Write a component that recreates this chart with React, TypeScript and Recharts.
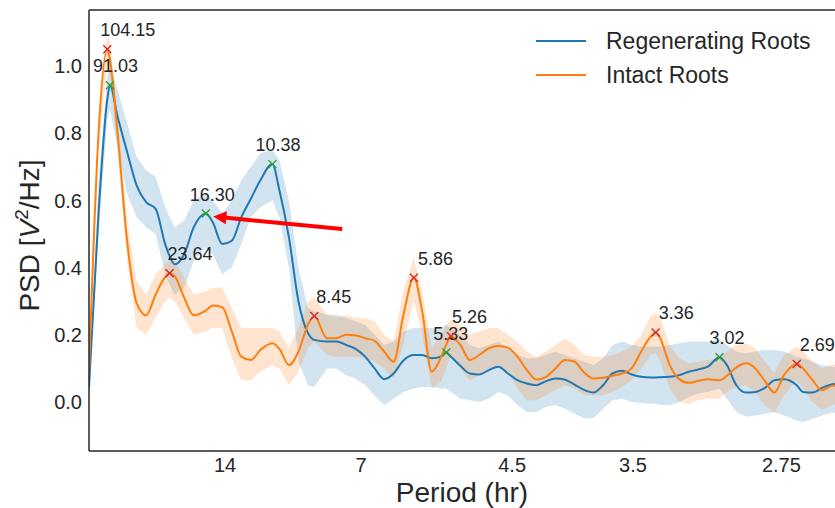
import React from 'react';
import { ComposedChart, Line, Area, Scatter, XAxis, YAxis, ReferenceLine, Legend } from 'recharts';

// Frequency (1/hr) sample points
const freq = [
  0, 0.005, 0.0096, 0.011, 0.015, 0.02, 0.025, 0.03, 0.035, 0.04, 0.0423, 0.045, 0.05, 0.055, 0.0613,
  0.065, 0.07, 0.075, 0.08, 0.085, 0.09, 0.0963, 0.1, 0.105, 0.11, 0.115, 0.1183, 0.125, 0.13, 0.135,
  0.14, 0.145, 0.15, 0.155, 0.16, 0.165, 0.1706, 0.175, 0.18, 0.185, 0.1876, 0.1901, 0.195, 0.2, 0.205,
  0.21, 0.215, 0.22, 0.225, 0.23, 0.235, 0.24, 0.245, 0.25, 0.255, 0.26, 0.265, 0.27, 0.275, 0.28,
  0.285, 0.29, 0.295, 0.2976, 0.3, 0.305, 0.31, 0.315, 0.32, 0.325, 0.3311, 0.335, 0.34, 0.345, 0.35,
  0.355, 0.36, 0.365, 0.3717, 0.375, 0.38, 0.385, 0.39, 0.395,
];
const regenerating = [
  0.045, 0.56, 0.9, 0.943, 0.85, 0.745, 0.645, 0.595, 0.575, 0.47, 0.435, 0.41, 0.44, 0.52, 0.561,
  0.535, 0.47, 0.48, 0.55, 0.605, 0.66, 0.708, 0.63, 0.49, 0.3, 0.205, 0.185, 0.18, 0.18, 0.17,
  0.158, 0.135, 0.1, 0.068, 0.085, 0.123, 0.14, 0.14, 0.13, 0.136, 0.147, 0.135, 0.108, 0.085, 0.082,
  0.095, 0.105, 0.085, 0.065, 0.055, 0.05, 0.062, 0.07, 0.066, 0.052, 0.036, 0.028, 0.05, 0.085, 0.093,
  0.082, 0.075, 0.073, 0.073, 0.074, 0.075, 0.08, 0.09, 0.097, 0.105, 0.133, 0.11, 0.05, 0.028, 0.03,
  0.042, 0.065, 0.068, 0.05, 0.03, 0.028, 0.042, 0.052, 0.055,
];
const intact = [
  0.09, 0.8, 1.05, 1.02, 0.8, 0.48, 0.295, 0.258, 0.32, 0.372, 0.383, 0.375, 0.31, 0.258, 0.272,
  0.287, 0.282, 0.21, 0.135, 0.125, 0.155, 0.175, 0.158, 0.11, 0.15, 0.23, 0.256, 0.19, 0.19, 0.2,
  0.198, 0.19, 0.182, 0.15, 0.12, 0.255, 0.37, 0.27, 0.09, 0.135, 0.17, 0.196, 0.17, 0.125, 0.14,
  0.16, 0.167, 0.162, 0.135, 0.095, 0.067, 0.075, 0.1, 0.125, 0.12, 0.088, 0.07, 0.072, 0.078, 0.085,
  0.1, 0.15, 0.195, 0.207, 0.19, 0.11, 0.068, 0.057, 0.063, 0.068, 0.065, 0.078, 0.103, 0.115, 0.1,
  0.062, 0.028, 0.08, 0.113, 0.1, 0.065, 0.035, 0.048, 0.05,
];
const regenLow = [
  0.03, 0.5, 0.84, 0.87, 0.76, 0.62, 0.55, 0.52, 0.5, 0.38, 0.35, 0.32, 0.34, 0.42, 0.46,
  0.44, 0.38, 0.4, 0.47, 0.55, 0.58, 0.6, 0.55, 0.4, 0.12, 0.05, 0.045, 0.1, 0.1, 0.08,
  0.07, 0.05, 0.02, -0.01, 0.01, 0.03, 0.04, 0.045, 0.045, 0.04, 0.04, 0.03, 0.01, 0.005, 0.0,
  0.01, 0.03, 0.02, -0.01, -0.03, -0.03, -0.015, -0.01, -0.02, -0.035, -0.048, -0.048, -0.02, 0.005, 0.01,
  0.0, -0.003, -0.005, -0.006, -0.008, -0.01, 0.0, 0.015, 0.025, 0.03, 0.04, 0.01, -0.03, -0.044, -0.04,
  -0.035, -0.03, -0.04, -0.055, -0.06, -0.05, -0.04, -0.033, -0.03,
];
const regenHigh = [
  0.06, 0.66, 0.97, 1.0, 0.93, 0.83, 0.73, 0.69, 0.67, 0.58, 0.55, 0.52, 0.54, 0.6, 0.62,
  0.6, 0.56, 0.6, 0.66, 0.7, 0.74, 0.75, 0.72, 0.6, 0.4, 0.28, 0.27, 0.26, 0.26, 0.25,
  0.24, 0.23, 0.2, 0.17, 0.18, 0.21, 0.22, 0.22, 0.22, 0.22, 0.23, 0.22, 0.2, 0.17, 0.16,
  0.17, 0.18, 0.16, 0.14, 0.13, 0.13, 0.14, 0.15, 0.14, 0.13, 0.12, 0.11, 0.13, 0.17, 0.18,
  0.17, 0.165, 0.165, 0.165, 0.165, 0.17, 0.175, 0.18, 0.18, 0.18, 0.185, 0.17, 0.15, 0.145, 0.15,
  0.155, 0.155, 0.15, 0.135, 0.13, 0.12, 0.11, 0.105, 0.1,
];
const intactLow = [
  0.07, 0.75, 1.0, 0.97, 0.75, 0.42, 0.22, 0.2, 0.25, 0.3, 0.31, 0.3, 0.25, 0.2, 0.21,
  0.22, 0.22, 0.13, 0.065, 0.065, 0.09, 0.11, 0.1, 0.05, 0.09, 0.16, 0.18, 0.14, 0.135, 0.135,
  0.135, 0.13, 0.12, 0.1, 0.07, 0.17, 0.3, 0.2, 0.04, 0.06, 0.1, 0.14, 0.1, 0.065, 0.08,
  0.1, 0.105, 0.09, 0.04, 0.005, 0.005, 0.02, 0.036, 0.05, 0.04, 0.02, 0.02, 0.02, 0.03, 0.045,
  0.065, 0.1, 0.14, 0.145, 0.12, 0.04, 0.0, -0.005, 0.005, 0.01, 0.01, 0.03, 0.045, 0.05, 0.03,
  -0.01, -0.033, 0.02, 0.065, 0.04, 0.0, -0.024, -0.01, 0.0,
];
const intactHigh = [
  0.11, 0.85, 1.1, 1.07, 0.86, 0.54, 0.36, 0.32, 0.38, 0.41, 0.42, 0.42, 0.37, 0.32, 0.33,
  0.34, 0.34, 0.28, 0.22, 0.22, 0.22, 0.22, 0.21, 0.16, 0.22, 0.3, 0.31, 0.26, 0.25, 0.26,
  0.25, 0.25, 0.24, 0.2, 0.18, 0.33, 0.43, 0.33, 0.16, 0.2, 0.23, 0.245, 0.23, 0.2, 0.21,
  0.22, 0.22, 0.2, 0.18, 0.15, 0.135, 0.15, 0.17, 0.19, 0.17, 0.14, 0.135, 0.135, 0.14, 0.15,
  0.165, 0.2, 0.255, 0.265, 0.25, 0.17, 0.13, 0.115, 0.12, 0.125, 0.13, 0.15, 0.17, 0.175, 0.16,
  0.12, 0.085, 0.14, 0.165, 0.15, 0.12, 0.1, 0.11, 0.11,
];

// Axis ticks
const tickPeriods = [14, 7, 4.5, 3.5, 2.75];
const tickLabels = ['14', '7', '4.5', '3.5', '2.75'];
const yTicks = [0, 0.2, 0.4, 0.6, 0.8, 1.0];

// Peaks
const intactPeakPeriods = [104.15, 23.64, 8.45, 5.86, 5.26, 3.36, 2.69];
const intactPeakLabels = ['104.15', '23.64', '8.45', '5.86', '5.26', '3.36', '2.69'];
const intactPeakPsd = [1.05, 0.383, 0.256, 0.37, 0.196, 0.207, 0.113];
const regenPeakPeriods = [91.03, 16.3, 10.38, 5.33, 3.02];
const regenPeakLabels = ['91.03', '16.30', '10.38', '5.33', '3.02'];
const regenPeakPsd = [0.943, 0.561, 0.708, 0.147, 0.133];

// Arrow (data coordinates: frequency, PSD)
const arrowTail = { f: 0.133, v: 0.515 };
const arrowTip = { f: 0.0653, v: 0.552 };

// style: horizontal label offsets (px) per peak label
const labelDx: Record<string, number> = {
  '104.15': -7, '91.03': -17, '16.30': -16, '10.38': -17, '23.64': -2, '8.45': 2,
  '5.86': 4, '5.33': -13, '5.26': 1, '3.36': 3, '3.02': -10, '2.69': 3,
};

const X_MAX = 0.3918;
const Y_MIN = -0.1458;
const Y_MAX = 1.1667;
const BLUE = '#1f77b4';
const ORANGE = '#ff7f0e';
const INK = '#262626';
const FONT = '"Liberation Sans", Arial, sans-serif';

const rows = freq.map((f, i) => ({
  f,
  regen: regenerating[i],
  intact: intact[i],
  regenBand: [regenLow[i], regenHigh[i]],
  intactBand: [intactLow[i], intactHigh[i]],
}));

const intactPeaks = intactPeakPeriods.map((p, i) => ({ f: 1 / p, v: intactPeakPsd[i], label: intactPeakLabels[i] }));
const regenPeaks = regenPeakPeriods.map((p, i) => ({ f: 1 / p, v: regenPeakPsd[i], label: regenPeakLabels[i] }));

const xTicks = tickPeriods.map((p) => 1 / p);
const fmtX = (v: number) => {
  let best = 0;
  xTicks.forEach((t, i) => {
    if (Math.abs(t - v) < Math.abs(xTicks[best] - v)) best = i;
  });
  return tickLabels[best];
};

const makePeakShape = (color: string) => (props: any) => {
  const { cx, cy, payload } = props;
  const s = 4;
  const dx = labelDx[payload.label] ?? 0;
  return (
    <g>
      <path
        d={`M${cx - s},${cy - s}L${cx + s},${cy + s}M${cx - s},${cy + s}L${cx + s},${cy - s}`}
        stroke={color}
        strokeWidth={1.4}
        fill="none"
      />
      <text x={cx + dx} y={cy - 13} fontSize={18} fill={INK} fontFamily={FONT}>
        {payload.label}
      </text>
    </g>
  );
};

const ArrowShape = (props: any) => {
  const { x1, y1, x2, y2 } = props;
  const dx = x2 - x1;
  const dy = y2 - y1;
  const len = Math.sqrt(dx * dx + dy * dy) || 1;
  const ux = dx / len;
  const uy = dy / len;
  const head = 13;
  const half = 6.5;
  const bx = x2 - ux * head;
  const by = y2 - uy * head;
  const px = -uy;
  const py = ux;
  return (
    <g>
      <line x1={x1} y1={y1} x2={bx + ux * 2} y2={by + uy * 2} stroke="#ff0000" strokeWidth={4} />
      <polygon
        points={`${x2},${y2} ${bx + px * half},${by + py * half} ${bx - px * half},${by - py * half}`}
        fill="#ff0000"
      />
    </g>
  );
};

const YLabel = (props: any) => {
  const vb = props.viewBox || { x: 0, y: 10, width: 89, height: 441 };
  const x = vb.x + 38.5;
  const y = vb.y + vb.height / 2 + 5;
  return (
    <text
      x={x}
      y={y}
      transform={`rotate(-90, ${x}, ${y})`}
      textAnchor="middle"
      fontSize={28}
      fill={INK}
      fontFamily={FONT}
    >
      PSD [<tspan fontStyle="italic">V</tspan>
      <tspan fontSize={19} dy={-11}>2</tspan>
      <tspan dy={11}>/Hz]</tspan>
    </text>
  );
};

const XLabel = (props: any) => {
  const vb = props.viewBox || { x: 89, y: 451, width: 746, height: 57 };
  return (
    <text x={vb.x + vb.width / 2} y={vb.y + 51} textAnchor="middle" fontSize={28} fill={INK} fontFamily={FONT}>
      Period (hr)
    </text>
  );
};

const LegendBox = () => (
  <div style={{ fontFamily: FONT, fontSize: 23, color: INK, lineHeight: '34px' }}>
    {[
      { name: 'Regenerating Roots', color: BLUE },
      { name: 'Intact Roots', color: ORANGE },
    ].map((it) => (
      <div key={it.name} style={{ display: 'flex', alignItems: 'center', height: 34 }}>
        <div style={{ width: 50, height: 2, background: it.color, marginRight: 20 }} />
        <span>{it.name}</span>
      </div>
    ))}
  </div>
);

export default function App() {
  return (
    <div style={{ position: 'absolute', left: 0, top: 0, width: 835, height: 508, background: '#fff' }}>
      <ComposedChart
        width={835}
        height={508}
        data={rows}
        margin={{ top: 10, right: 0, bottom: 0, left: 0 }}
        style={{ fontFamily: FONT }}
      >
        <XAxis
          dataKey="f"
          type="number"
          domain={[0, X_MAX]}
          allowDataOverflow
          ticks={xTicks}
          tickFormatter={fmtX}
          tickLine={false}
          tickSize={0}
          tickMargin={7}
          height={57}
          axisLine={{ stroke: INK, strokeWidth: 1.5 }}
          tick={{ fill: INK, fontSize: 20, fontFamily: FONT }}
          label={<XLabel />}
        />
        <YAxis
          type="number"
          domain={[Y_MIN, Y_MAX]}
          allowDataOverflow
          ticks={yTicks}
          tickFormatter={(v: number) => v.toFixed(1)}
          tickLine={false}
          tickSize={0}
          tickMargin={7}
          width={89}
          axisLine={{ stroke: INK, strokeWidth: 1.5 }}
          tick={{ fill: INK, fontSize: 20, fontFamily: FONT }}
          label={<YLabel />}
        />
        <ReferenceLine y={Y_MAX} stroke={INK} strokeWidth={1.5} ifOverflow="visible" />
        <Area
          dataKey="regenBand"
          type="linear"
          stroke="none"
          fill={BLUE}
          fillOpacity={0.2}
          isAnimationActive={false}
          legendType="none"
        />
        <Area
          dataKey="intactBand"
          type="linear"
          stroke="none"
          fill={ORANGE}
          fillOpacity={0.2}
          isAnimationActive={false}
          legendType="none"
        />
        <Line
          dataKey="regen"
          name="Regenerating Roots"
          type="monotone"
          stroke={BLUE}
          strokeWidth={2}
          dot={false}
          isAnimationActive={false}
        />
        <Line
          dataKey="intact"
          name="Intact Roots"
          type="monotone"
          stroke={ORANGE}
          strokeWidth={2}
          dot={false}
          isAnimationActive={false}
        />
        <Scatter
          data={regenPeaks}
          dataKey="v"
          shape={makePeakShape('#2ca02c')}
          isAnimationActive={false}
          legendType="none"
        />
        <Scatter
          data={intactPeaks}
          dataKey="v"
          shape={makePeakShape('#d62728')}
          isAnimationActive={false}
          legendType="none"
        />
        <ReferenceLine
          segment={[
            { x: arrowTail.f, y: arrowTail.v },
            { x: arrowTip.f, y: arrowTip.v },
          ]}
          shape={ArrowShape}
          ifOverflow="visible"
        />
        <Legend
          layout="vertical"
          align="center"
          verticalAlign="middle"
          content={() => <LegendBox />}
          wrapperStyle={{ position: 'absolute', left: 536, top: 24, width: 299 }}
        />
      </ComposedChart>
    </div>
  );
}
